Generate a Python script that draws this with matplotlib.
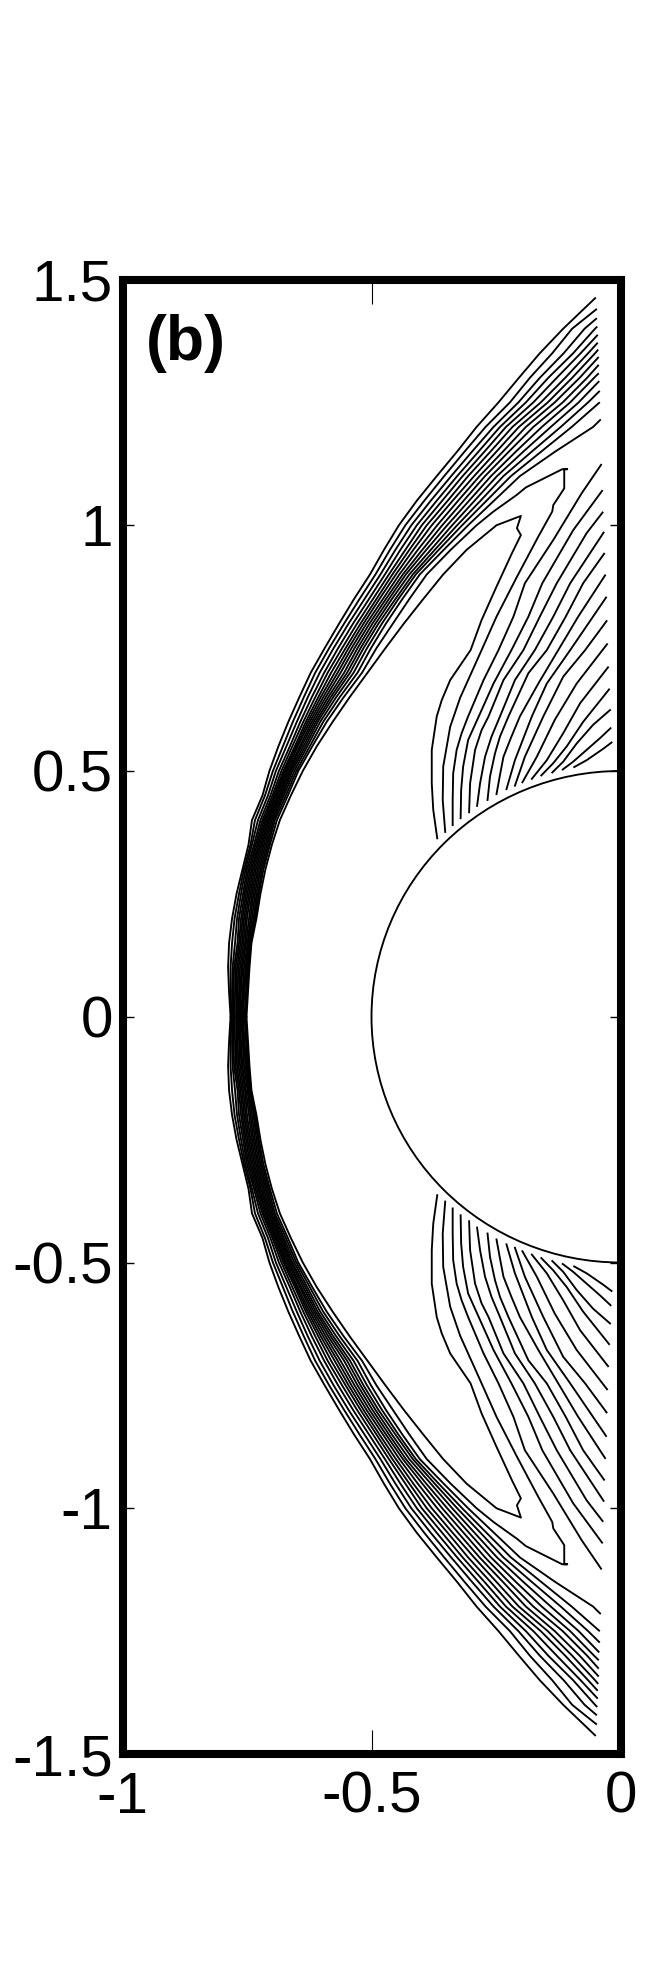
import numpy as np
import matplotlib
matplotlib.use("Agg")
import matplotlib.pyplot as plt
from matplotlib.patches import Arc

plt.rcParams["font.family"] = ["Liberation Sans", "DejaVu Sans"]

x_ticks = [-1, -0.5, 0]
x_tick_labels = ["-1", "-0.5", "0"]
y_ticks = [-1.5, -1, -0.5, 0, 0.5, 1, 1.5]
y_tick_labels = ["-1.5", "-1", "-0.5", "0", "0.5", "1", "1.5"]
body_radius = 0.5

# shock band: x of each contour at a given height, outermost contour first
shock_y = [0, 0.05, 0.1, 0.15, 0.2, 0.25, 0.3, 0.35, 0.4, 0.45, 0.5, 0.55, 0.6, 0.65, 0.7, 0.75,
           0.8, 0.85, 0.9, 0.95, 1.0, 1.05, 1.1, 1.15, 1.2, 1.25, 1.3, 1.35, 1.4]
row_000 = [-0.783, -0.781, -0.779, -0.777, -0.775, -0.772, -0.770, -0.768, -0.766, -0.764, -0.762, -0.760, -0.758, -0.755, -0.753, -0.751]
row_005 = [-0.786, -0.783, -0.780, -0.777, -0.774, -0.771, -0.769, -0.766, -0.764, -0.762, -0.759, -0.757, -0.755, -0.752, -0.750, -0.748]
row_010 = [-0.788, -0.783, -0.779, -0.776, -0.773, -0.770, -0.767, -0.764, -0.761, -0.759, -0.756, -0.753, -0.751, -0.749, -0.747, -0.745]
row_015 = [-0.786, -0.780, -0.774, -0.769, -0.766, -0.763, -0.760, -0.757, -0.754, -0.752, -0.749, -0.747, -0.745, -0.743, -0.742, -0.741]
row_020 = [-0.780, -0.775, -0.770, -0.766, -0.762, -0.759, -0.756, -0.753, -0.750, -0.746, -0.743, -0.740, -0.737, -0.735, -0.733, -0.731]
row_025 = [-0.771, -0.766, -0.762, -0.758, -0.755, -0.752, -0.749, -0.746, -0.743, -0.740, -0.737, -0.734, -0.731, -0.728, -0.726, -0.723]
row_030 = [-0.759, -0.756, -0.753, -0.750, -0.747, -0.744, -0.741, -0.738, -0.735, -0.732, -0.729, -0.726, -0.723, -0.720, -0.717, -0.713]
row_035 = [-0.747, -0.743, -0.740, -0.736, -0.733, -0.730, -0.727, -0.725, -0.722, -0.719, -0.716, -0.713, -0.710, -0.707, -0.704, -0.700]
row_040 = [-0.740, -0.734, -0.728, -0.723, -0.719, -0.716, -0.713, -0.711, -0.708, -0.706, -0.703, -0.700, -0.697, -0.694, -0.690, -0.684]
row_045 = [-0.719, -0.714, -0.708, -0.703, -0.699, -0.696, -0.693, -0.691, -0.688, -0.685, -0.682, -0.679, -0.676, -0.672, -0.668, -0.662]
row_050 = [-0.705, -0.698, -0.692, -0.686, -0.681, -0.677, -0.674, -0.671, -0.668, -0.665, -0.662, -0.659, -0.655, -0.651, -0.647, -0.638]
row_055 = [-0.687, -0.678, -0.671, -0.664, -0.659, -0.654, -0.651, -0.648, -0.644, -0.641, -0.637, -0.633, -0.629, -0.624, -0.619, -0.610]
row_060 = [-0.667, -0.658, -0.650, -0.643, -0.637, -0.632, -0.628, -0.624, -0.620, -0.616, -0.612, -0.608, -0.603, -0.597, -0.590, -0.578]
row_065 = [-0.645, -0.636, -0.628, -0.620, -0.613, -0.607, -0.602, -0.597, -0.592, -0.587, -0.582, -0.577, -0.571, -0.564, -0.556, -0.544]
row_070 = [-0.622, -0.613, -0.604, -0.595, -0.588, -0.581, -0.574, -0.568, -0.562, -0.555, -0.549, -0.543, -0.536, -0.528, -0.519, -0.508]
row_075 = [-0.594, -0.585, -0.576, -0.567, -0.559, -0.552, -0.546, -0.540, -0.534, -0.528, -0.522, -0.516, -0.509, -0.501, -0.490, -0.472]
row_080 = [-0.565, -0.555, -0.546, -0.537, -0.529, -0.522, -0.516, -0.510, -0.504, -0.498, -0.492, -0.486, -0.479, -0.471, -0.457, -0.435]
row_085 = [-0.535, -0.524, -0.514, -0.505, -0.497, -0.490, -0.484, -0.477, -0.471, -0.465, -0.459, -0.452, -0.446, -0.438, -0.424, -0.396]
row_090 = [-0.503, -0.492, -0.482, -0.473, -0.465, -0.458, -0.451, -0.444, -0.437, -0.431, -0.424, -0.417, -0.411, -0.403, -0.389, -0.356]
row_095 = [-0.475, -0.463, -0.452, -0.442, -0.432, -0.424, -0.416, -0.407, -0.398, -0.390, -0.381, -0.373, -0.365, -0.355, -0.341, -0.309]
row_100 = [-0.445, -0.432, -0.420, -0.409, -0.399, -0.389, -0.379, -0.368, -0.358, -0.348, -0.338, -0.328, -0.318, -0.306, -0.289, -0.249]
row_105 = [-0.409, -0.394, -0.381, -0.369, -0.358, -0.347, -0.337, -0.326, -0.315, -0.304, -0.293, -0.281, -0.269, -0.254]
row_110 = [-0.369, -0.354, -0.340, -0.328, -0.317, -0.306, -0.294, -0.283, -0.272, -0.260, -0.248, -0.235, -0.220, -0.202]
row_115 = [-0.328, -0.313, -0.298, -0.285, -0.273, -0.261, -0.249, -0.236, -0.224, -0.210, -0.195, -0.178, -0.159, -0.131]
row_120 = [-0.289, -0.271, -0.255, -0.242, -0.230, -0.217, -0.204, -0.190, -0.175, -0.158, -0.140, -0.120, -0.098, -0.055]
row_125 = [-0.245, -0.222, -0.205, -0.190, -0.175, -0.160, -0.146, -0.132, -0.116, -0.101, -0.084, -0.065]
row_130 = [-0.204, -0.182, -0.162, -0.145, -0.128, -0.111, -0.097, -0.082, -0.067, -0.053]
row_135 = [-0.162, -0.137, -0.114, -0.095, -0.080, -0.065, -0.051]
row_140 = [-0.115, -0.097, -0.072, -0.051]
shock_rows = [row_000, row_005, row_010, row_015, row_020, row_025, row_030, row_035, row_040, row_045,
              row_050, row_055, row_060, row_065, row_070, row_075, row_080, row_085, row_090, row_095,
              row_100, row_105, row_110, row_115, row_120, row_125, row_130, row_135, row_140]

# where the 14 outer contours stop at the right
end_x = [-0.051, -0.049, -0.049, -0.048, -0.047, -0.047, -0.046, -0.045, -0.045, -0.045, -0.044, -0.043, -0.043, -0.041]
end_y = [1.462, 1.439, 1.420, 1.403, 1.386, 1.370, 1.356, 1.341, 1.325, 1.308, 1.292, 1.272, 1.249, 1.214]

# the last two band contours fold back towards the body
fold1_x = [-0.200, -0.208, -0.200, -0.218, -0.249, -0.279, -0.301, -0.342, -0.359, -0.369, -0.379, -0.379, -0.376, -0.368]
fold1_y = [1.019, 0.994, 0.980, 0.943, 0.875, 0.807, 0.746, 0.685, 0.644, 0.611, 0.543, 0.475, 0.421, 0.363]
fold2_x = [-0.255, -0.208, -0.190, -0.117, -0.107, -0.113, -0.113, -0.135, -0.137, -0.165, -0.208, -0.249, -0.282, -0.322, -0.342, -0.356, -0.357, -0.352]
fold2_y = [1.028, 1.062, 1.077, 1.114, 1.114, 1.114, 1.075, 1.041, 1.028, 0.977, 0.895, 0.814, 0.739, 0.649, 0.590, 0.509, 0.441, 0.376]

# fan of contours between the body and the right edge
fan_x = [
    [-0.039, -0.078, -0.135, -0.192, -0.215, -0.245, -0.275, -0.306, -0.319, -0.329, -0.336, -0.337, -0.337],
    [-0.037, -0.095, -0.157, -0.185, -0.219, -0.255, -0.282, -0.306, -0.316, -0.320, -0.321],
    [-0.036, -0.068, -0.128, -0.162, -0.195, -0.235, -0.265, -0.279, -0.292, -0.302, -0.304],
    [-0.034, -0.101, -0.135, -0.172, -0.212, -0.242, -0.259, -0.272, -0.282, -0.288],
    [-0.033, -0.075, -0.110, -0.148, -0.185, -0.225, -0.242, -0.252, -0.262, -0.267],
    [-0.031, -0.085, -0.125, -0.165, -0.202, -0.219, -0.235, -0.242, -0.249],
    [-0.029, -0.101, -0.148, -0.178, -0.212, -0.229],
    [-0.028, -0.071, -0.115, -0.155, -0.192, -0.212],
    [-0.027, -0.088, -0.132, -0.168, -0.197],
    [-0.025, -0.081, -0.115, -0.148, -0.178],
    [-0.023, -0.075, -0.108, -0.135, -0.159],
    [-0.021, -0.055, -0.088, -0.115, -0.137],
    [-0.020, -0.041, -0.068, -0.095, -0.116],
    [-0.018, -0.035, -0.068, -0.093],
]
fan_y = [
    [1.123, 1.065, 0.970, 0.882, 0.814, 0.746, 0.685, 0.611, 0.577, 0.543, 0.495, 0.441, 0.390],
    [1.070, 0.990, 0.882, 0.814, 0.746, 0.678, 0.617, 0.563, 0.509, 0.461, 0.404],
    [1.026, 0.984, 0.882, 0.814, 0.746, 0.685, 0.611, 0.583, 0.543, 0.475, 0.416],
    [0.985, 0.882, 0.814, 0.746, 0.685, 0.611, 0.570, 0.529, 0.475, 0.429],
    [0.942, 0.882, 0.814, 0.746, 0.699, 0.611, 0.570, 0.536, 0.489, 0.441],
    [0.898, 0.814, 0.746, 0.678, 0.611, 0.570, 0.529, 0.492, 0.453],
    [0.853, 0.746, 0.678, 0.611, 0.522, 0.463],
    [0.805, 0.746, 0.692, 0.611, 0.529, 0.470],
    [0.758, 0.678, 0.604, 0.529, 0.477],
    [0.711, 0.638, 0.577, 0.522, 0.484],
    [0.666, 0.600, 0.550, 0.516, 0.491],
    [0.624, 0.594, 0.556, 0.519, 0.497],
    [0.587, 0.567, 0.543, 0.519, 0.503],
    [0.558, 0.545, 0.522, 0.508],
]


def draw_both(ax, xs, ys):
    ys = np.asarray(ys)
    for sign in (1, -1):
        ax.plot(xs, sign * ys, color="black", lw=1.35, solid_joinstyle="round")


fig = plt.figure(figsize=(6.64, 19.75), dpi=100)
ax = fig.add_axes([122.5 / 664, 221 / 1975, 498 / 664, 1474.5 / 1975])

for k in range(16):
    xs = [row[k] for row in shock_rows if k < len(row)]
    ys = [v for v, row in zip(shock_y, shock_rows) if k < len(row)]
    if k < 14:
        xs = xs + [end_x[k]]
        ys = ys + [end_y[k]]
    elif k == 14:
        xs = xs + fold2_x
        ys = ys + fold2_y
    else:
        xs = xs + fold1_x
        ys = ys + fold1_y
    draw_both(ax, xs, ys)

for xs, ys in zip(fan_x, fan_y):
    draw_both(ax, xs, ys)

ax.add_patch(Arc((0, 0), 2 * body_radius, 2 * body_radius, theta1=90, theta2=270,
                 color="black", lw=1.35))

ax.set_xlim(-1, 0)
ax.set_ylim(-1.5, 1.5)
ax.set_xticks(x_ticks, x_tick_labels)
ax.set_yticks(y_ticks, y_tick_labels)
ax.tick_params(axis="x", direction="in", top=True, bottom=True, length=17.3, width=0.8,
               labelsize=42, pad=12)
ax.tick_params(axis="y", direction="in", left=True, right=True, length=8, width=1.0,
               labelsize=42, pad=7)
for spine in ax.spines.values():
    spine.set_linewidth(5.8)

ax.text(-0.953, 1.336, "(b)", fontsize=45, fontweight="bold", va="baseline", ha="left")

fig.savefig("out.png", dpi=100)
plt.close(fig)
